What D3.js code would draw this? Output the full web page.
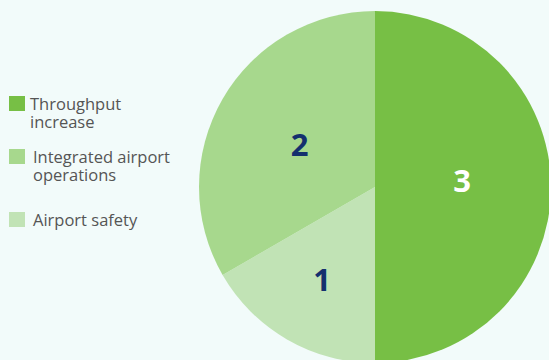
<!DOCTYPE html>
<html>
<head>
<meta charset="utf-8">
<script src="https://cdn.jsdelivr.net/npm/d3@7"></script>
<style>
  html, body { margin: 0; padding: 0; background: #f2fbfa; }
  svg { display: block; }
</style>
</head>
<body>
<svg id="chart" width="549" height="360"></svg>
<script>
// Slices, in drawing order clockwise from 12 o'clock
const categories = ["Throughput increase", "Airport safety", "Integrated airport operations"];
const values = [3, 1, 2];
const colors = ["#77bf45", "#c1e3b5", "#a7d88d"];
const labelColors = ["#ffffff", "#14306e", "#14306e"];
// Legend order and line breaks
const legendItems = [
  { name: "Throughput increase", lines: ["Throughput", "increase"] },
  { name: "Integrated airport operations", lines: ["Integrated airport", "operations"] },
  { name: "Airport safety", lines: ["Airport safety"] }
];

const svg = d3.select("#chart");
const cx = 375, cy = 187, r = 176;

const pie = d3.pie().sort(null).value(d => d)(values);
const arc = d3.arc().innerRadius(0).outerRadius(r);

const g = svg.append("g").attr("transform", `translate(${cx},${cy})`);
g.selectAll("path.slice")
  .data(pie)
  .join("path")
  .attr("class", "slice")
  .attr("d", arc)
  .attr("fill", (d, i) => colors[i]);

// Value labels sit inside each slice; the small slice gets a longer radius
const labelRadius = i => values[i] === 1 ? 212 : 174;
const labelLift = i => values[i] === 3 ? -7 : 0;
g.selectAll("text.val")
  .data(pie)
  .join("text")
  .attr("class", "val")
  .attr("transform", (d, i) => {
    const la = d3.arc().innerRadius(0).outerRadius(labelRadius(i));
    const [x, y] = la.centroid(d);
    return `translate(${x},${y + labelLift(i)})`;
  })
  .attr("text-anchor", "middle")
  .attr("dominant-baseline", "central")
  .attr("font-family", "'Open Sans', 'Noto Sans', sans-serif")
  .attr("font-weight", 700)
  .attr("font-size", 31)
  .attr("fill", (d, i) => labelColors[i])
  .text(d => d.data);

// Legend
const legendY = [96, 149, 212];
const textX = [30, 33, 33];
const leg = svg.append("g");
legendItems.forEach((item, k) => {
  const idx = categories.indexOf(item.name);
  leg.append("rect")
    .attr("x", 9).attr("y", legendY[k])
    .attr("width", 16).attr("height", 15)
    .attr("fill", colors[idx]);
  const t = leg.append("text")
    .attr("x", textX[k]).attr("y", legendY[k] + 14)
    .attr("font-family", "'Open Sans', 'Noto Sans', sans-serif")
    .attr("font-size", 16.5)
    .attr("fill", "#555555");
  item.lines.forEach((line, j) => {
    t.append("tspan")
      .attr("x", textX[k])
      .attr("dy", j === 0 ? 0 : 17.5)
      .text(line);
  });
});
</script>
</body>
</html>
